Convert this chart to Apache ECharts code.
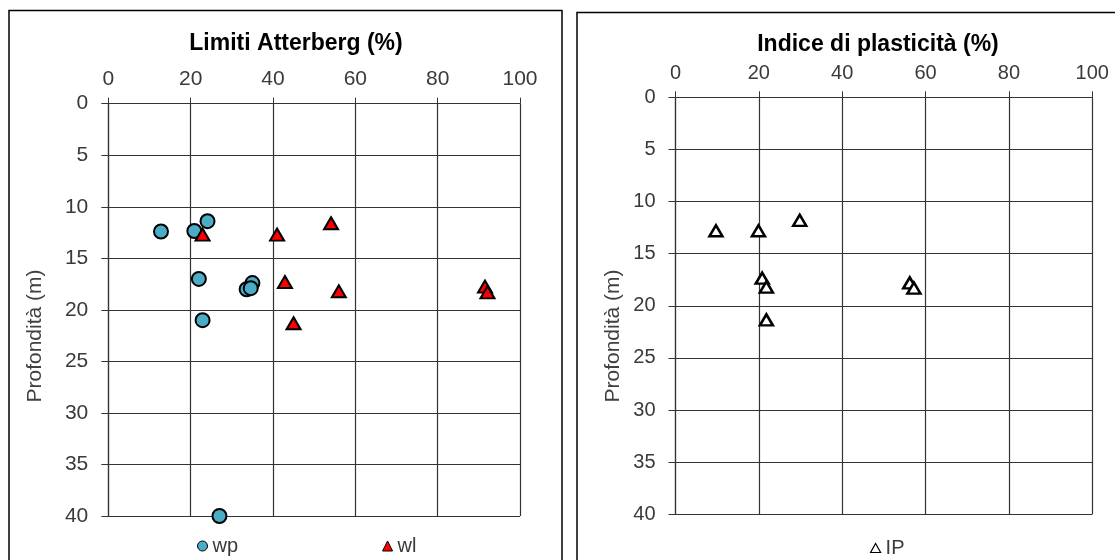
<!DOCTYPE html>
<html>
<head>
<meta charset="utf-8">
<title>Limiti Atterberg</title>
<script src="https://cdn.jsdelivr.net/npm/echarts@6/dist/echarts.min.js"></script>
<style>
  html, body { margin: 0; padding: 0; background: #fff; }
  #main { width: 1115px; height: 560px; }
</style>
</head>
<body>
<div id="main"></div>
<script>
// limite plastico (wp)
var wpVal   = [12.8, 20.9, 24.1, 22.0, 35.0, 33.6, 34.6, 22.9, 27.0];
var wpDepth = [12.4, 12.35, 11.4, 17.0, 17.4, 18.0, 17.9, 21.0, 40.0];
// limite liquido (wl)
var wlVal   = [22.9, 41.0, 54.1, 42.9, 56.0, 91.5, 92.1, 45.0];
var wlDepth = [12.7, 12.7, 11.6, 17.3, 18.2, 17.75, 18.3, 21.3];
// indice di plasticita (IP)
var ipVal   = [9.7, 19.9, 29.8, 20.8, 21.8, 56.2, 57.2, 21.8];
var ipDepth = [12.8, 12.8, 11.8, 17.35, 18.2, 17.8, 18.3, 21.35];

var xTicks = [0, 20, 40, 60, 80, 100];
var yTicks = [0, 5, 10, 15, 20, 25, 30, 35, 40];

function pairs(xs, ys) {
  return xs.map(function (v, i) { return [v, ys[i]]; });
}

var font = 'Liberation Sans, Arial, sans-serif';
var lineCol = '#333';
var labCol = '#3a3a3a';

function xAxisCfg(idx, size) {
  return {
    gridIndex: idx,
    type: 'value',
    position: 'top',
    min: xTicks[0],
    max: xTicks[xTicks.length - 1],
    interval: 20,
    axisLine: { show: true, onZero: false, lineStyle: { color: lineCol, width: 1.2 } },
    axisTick: { show: true, length: 6, lineStyle: { color: lineCol } },
    splitLine: { show: true, lineStyle: { color: lineCol, width: 1.2 } },
    axisLabel: { fontSize: size, color: labCol, fontFamily: font, margin: 14 }
  };
}

function yAxisCfg(idx, size) {
  return {
    gridIndex: idx,
    type: 'value',
    inverse: true,
    min: yTicks[0],
    max: yTicks[yTicks.length - 1],
    interval: 5,
    axisLine: { show: true, onZero: false, lineStyle: { color: lineCol, width: 1.2 } },
    axisTick: { show: true, length: 7, lineStyle: { color: lineCol } },
    splitLine: { show: true, lineStyle: { color: lineCol, width: 1.2 } },
    axisLabel: { fontSize: size, color: labCol, fontFamily: font, margin: 20 }
  };
}

var chart = echarts.init(document.getElementById('main'), null, { renderer: 'canvas' });

chart.setOption({
  animation: false,
  backgroundColor: '#fff',
  graphic: [
    // cornici dei due grafici
    { type: 'rect', shape: { x: 9, y: 10.5, width: 553, height: 560 }, style: { fill: 'none', stroke: '#000', lineWidth: 1.5 }, z: -1 },
    { type: 'rect', shape: { x: 577, y: 12.5, width: 560, height: 560 }, style: { fill: 'none', stroke: '#000', lineWidth: 1.5 }, z: -1 },
    { type: 'text', x: 35, y: 336, rotation: Math.PI / 2,
      style: { text: 'Profondità (m)', fontSize: 21, fontFamily: font, fill: '#404040', align: 'center', verticalAlign: 'middle' } },
    { type: 'text', x: 613, y: 336, rotation: Math.PI / 2,
      style: { text: 'Profondità (m)', fontSize: 21, fontFamily: font, fill: '#404040', align: 'center', verticalAlign: 'middle' } }
  ],
  title: [
    { text: 'Limiti Atterberg (%)', left: 296, top: 32, textAlign: 'center', padding: 0,
      textStyle: { fontSize: 23, fontWeight: 'bold', color: '#000', fontFamily: font } },
    { text: 'Indice di plasticità (%)', left: 878, top: 33, textAlign: 'center', padding: 0,
      textStyle: { fontSize: 23, fontWeight: 'bold', color: '#000', fontFamily: font } }
  ],
  legend: [
    { data: ['wp', 'wl'], left: 197, top: 536, padding: 0, itemGap: 144,
      itemWidth: 10, itemHeight: 10, itemStyle: { borderWidth: 1 },
      textStyle: { fontSize: 20, color: labCol, fontFamily: font } },
    { data: ['IP'], left: 870, top: 538, padding: 0,
      itemWidth: 10, itemHeight: 9, itemStyle: { borderWidth: 1.2 },
      textStyle: { fontSize: 20, color: labCol, fontFamily: font } }
  ],
  grid: [
    { left: 108.3, top: 103.7, width: 411.7, height: 412.3 },
    { left: 675.5, top: 97.3, width: 416.8, height: 417 }
  ],
  xAxis: [xAxisCfg(0, 21), xAxisCfg(1, 20)],
  yAxis: [yAxisCfg(0, 21), yAxisCfg(1, 20)],
  series: [
    {
      name: 'wp', type: 'scatter', xAxisIndex: 0, yAxisIndex: 0,
      symbol: 'circle', symbolSize: 14,
      itemStyle: { color: '#4BACC6', borderColor: '#000', borderWidth: 2, opacity: 1 },
      data: pairs(wpVal, wpDepth)
    },
    {
      name: 'wl', type: 'scatter', xAxisIndex: 0, yAxisIndex: 0,
      symbol: 'triangle', symbolSize: [14, 12],
      itemStyle: { color: '#FF0000', borderColor: '#000', borderWidth: 2, opacity: 1 },
      data: pairs(wlVal, wlDepth)
    },
    {
      name: 'IP', type: 'scatter', xAxisIndex: 1, yAxisIndex: 1,
      symbol: 'triangle', symbolSize: [13, 11],
      itemStyle: { color: '#fff', borderColor: '#000', borderWidth: 2.5, opacity: 1 },
      data: pairs(ipVal, ipDepth)
    }
  ]
});
</script>
</body>
</html>
